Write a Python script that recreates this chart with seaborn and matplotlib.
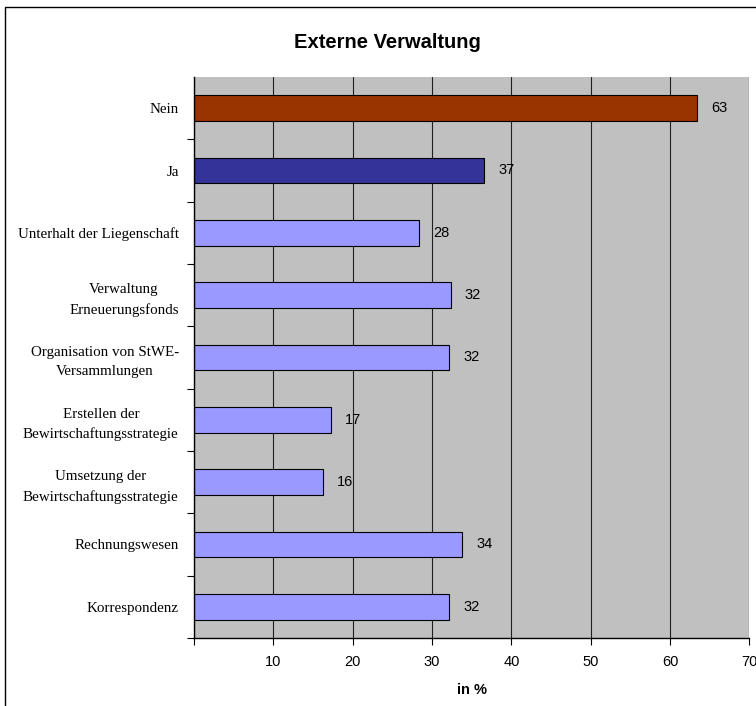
import matplotlib
matplotlib.use("Agg")
import matplotlib.pyplot as plt
import seaborn as sns
import pandas as pd
from matplotlib.patches import Rectangle

# Shares of owners (in %) per answer / delegated task
categories = [
    "Nein",
    "Ja",
    "Unterhalt der Liegenschaft",
    "Verwaltung\nErneuerungsfonds",
    "Organisation von StWE-\nVersammlungen",
    "Erstellen der\nBewirtschaftungsstrategie",
    "Umsetzung der\nBewirtschaftungsstrategie",
    "Rechnungswesen",
    "Korrespondenz",
]
values = [63.4, 36.6, 28.4, 32.4, 32.2, 17.3, 16.2, 33.8, 32.2]
bar_colors = ["#993300", "#333399"] + ["#9999FF"] * 7
x_ticks = [0, 10, 20, 30, 40, 50, 60, 70]
x_tick_labels = ["", "10", "20", "30", "40", "50", "60", "70"]

sns.set_theme(style="white")
plt.rcParams["font.family"] = ["Liberation Sans", "DejaVu Sans"]
plt.rcParams["text.color"] = "black"
plt.rcParams["axes.labelcolor"] = "black"
plt.rcParams["xtick.color"] = "black"
plt.rcParams["ytick.color"] = "black"

df = pd.DataFrame({"Kategorie": categories, "Anteil": values})

fig = plt.figure(figsize=(7.56, 7.06), dpi=100)
ax = fig.add_axes([194 / 756, 1 - 638 / 706, (749.3 - 194) / 756, (638 - 77) / 706])

sns.barplot(
    data=df, x="Anteil", y="Kategorie", hue="Kategorie",
    order=categories, hue_order=categories, palette=bar_colors,
    width=0.41, saturation=1, edgecolor="black", linewidth=0.8,
    legend=False, ax=ax,
)

ax.set_facecolor("#C0C0C0")
ax.set_xlim(0, 70)
ax.set_ylim(len(categories) - 0.5, -0.5)
ax.set_axisbelow(True)
ax.xaxis.grid(True, color="#202020", linewidth=0.8)
ax.yaxis.grid(False)

for side in ("top", "right"):
    ax.spines[side].set_visible(False)
for side in ("left", "bottom"):
    ax.spines[side].set_color("black")
    ax.spines[side].set_linewidth(1.0)

ax.set_xticks(x_ticks)
ax.set_xticklabels(x_tick_labels, fontsize=10.5, family="Liberation Sans", color="black")
ax.tick_params(axis="x", direction="out", length=5, width=0.8, color="black", pad=7, bottom=True)

ax.set_yticks(range(len(categories)))
ax.set_yticks([i + 0.5 for i in range(len(categories))], minor=True)
ax.tick_params(axis="y", which="major", length=0, pad=11, left=True)
ax.tick_params(axis="y", which="minor", direction="out", length=5, width=0.8, color="black", left=True)
for lbl in ax.get_yticklabels():
    lbl.set_family("Liberation Serif")
    lbl.set_fontsize(10.8)
    lbl.set_color("black")
    lbl.set_multialignment("center")
    lbl.set_linespacing(1.6)
ax.set_ylabel("")

ax.set_xlabel("in %", fontsize=10.5, fontweight="bold", labelpad=10, color="black")

for container in ax.containers:
    ax.bar_label(
        container,
        labels=[f"{v:.0f}" for v in container.datavalues],
        padding=10, fontsize=10.5, family="Liberation Sans", color="black",
    )

fig.text(387 / 756, 1 - 43 / 706, "Externe Verwaltung", ha="center", va="center",
         fontsize=14.5, fontweight="bold", family="Liberation Sans", color="black")

# chart frame
fig.add_artist(Rectangle((5 / 756, -0.05), 1.0, (706 - 7) / 706 + 0.05,
                         transform=fig.transFigure, fill=False,
                         edgecolor="black", linewidth=1.0))

fig.savefig("out.png", dpi=100, facecolor="white")
